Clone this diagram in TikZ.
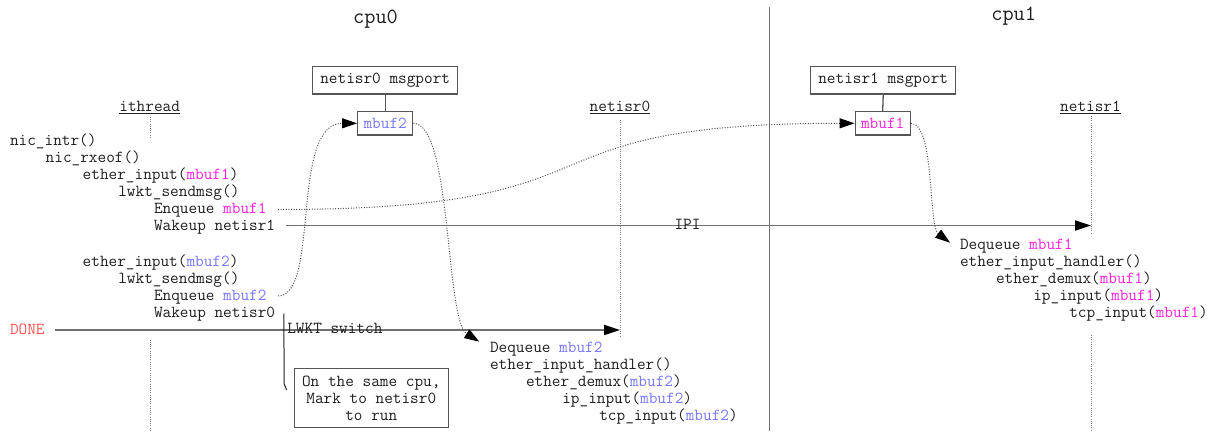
\documentclass[tikz,border=0pt]{standalone}
\usepackage{fontspec}
\usetikzlibrary{arrows.meta}
\definecolor{ink}{HTML}{1E1E1E}
\definecolor{mbA}{HTML}{FF22DD}
\definecolor{mbB}{HTML}{7777FF}
\definecolor{donered}{HTML}{FF5050}
\definecolor{rule}{HTML}{707070}
\definecolor{boxline}{HTML}{555555}
\definecolor{lifegray}{HTML}{808080}
\definecolor{dotgray}{HTML}{505050}
\newcommand{\mA}{\textcolor{mbA}{mbuf1}}
\newcommand{\mB}{\textcolor{mbB}{mbuf2}}
\newcommand{\codefont}{\ttfamily\fontsize{16.8}{17}\selectfont}
\tikzset{
  txt/.style={anchor=base west, inner sep=0pt, outer sep=0pt, text=ink,
    font=\codefont},
  ctxt/.style={txt, anchor=base},
  title/.style={anchor=base, inner sep=0pt, text=ink,
    font=\ttfamily\fontsize{21.7}{24}\selectfont},
  portbox/.style={draw=boxline, line width=1.3pt, fill=white, text=ink,
    font=\codefont, inner sep=0pt,
    minimum width=145pt, minimum height=27.3pt},
  mbufbox/.style={portbox, minimum width=55pt, minimum height=23.3pt},
  notebox/.style={draw=boxline, line width=1.3pt, text=ink, align=center,
    font=\codefont, inner sep=0pt,
    minimum width=154pt, minimum height=59.4pt},
  life/.style={draw=lifegray, line width=1pt, dash pattern=on 1pt off 1.2pt},
  msg/.style={draw=rule, line width=1.8pt,
    -{Triangle[length=16pt,width=10pt,color=black]}},
  flow/.style={draw=dotgray, line width=1pt, dash pattern=on 1pt off 1.6pt,
    -{Triangle[length=15pt,width=10pt,color=black]}},
  plain/.style={draw=boxline, line width=1.3pt},
  underl/.style={draw=ink, line width=1pt},
}
\begin{document}
\begin{tikzpicture}[x=1pt,y=-1pt]
\useasboundingbox (0,0) rectangle (1215,431);

% cpu divider
\coordinate (divtop) at (769.3,7);
\coordinate (divbot) at (769.3,431);
\draw[draw=rule, line width=1.5pt] (divtop) -- (divbot);

% titles
\node[title] (cpu0) at (375.5,23.3) {cpu0};
\node[title] (cpu1) at (1013.7,20.7) {cpu1};

% message ports and queued mbufs
\node[portbox] (port0) at (385.2,80.3) {netisr0 msgport};
\node[mbufbox] (q0) at (385.2,123.3) {\mB};
\node[portbox] (port1) at (883.2,80.3) {netisr1 msgport};
\node[mbufbox] (q1) at (882.7,123.3) {\mA};
\draw[plain] (port0.south) -- (q0.north);
\draw[plain] (port1.south) -- (q1.north);

% thread headers
\node[ctxt] (ithread) at (149.7,111) {ithread};
\node[ctxt] (netisr0) at (620,111) {netisr0};
\node[ctxt] (netisr1) at (1090.5,111) {netisr1};
\foreach \h in {ithread,netisr0,netisr1}
  \draw[underl] ([yshift=-2.5pt]\h.base west) -- ([yshift=-2.5pt]\h.base east);

% lifelines
\coordinate (it1a) at (150,117);   \coordinate (it1b) at (150,138.5);
\coordinate (it2a) at (150,339.5); \coordinate (it2b) at (150,431);
\coordinate (n0a) at (620,120);    \coordinate (n0b) at (620,337);
\coordinate (n1a) at (1091,116);   \coordinate (n1b) at (1091,233.5);
\coordinate (n1c) at (1091,335);   \coordinate (n1d) at (1091,431);
\draw[life] (it1a) -- (it1b);
\draw[life] (it2a) -- (it2b);
\draw[life] (n0a) -- (n0b);
\draw[life] (n1a) -- (n1b);
\draw[life] (n1c) -- (n1d);

% interrupt thread call stack
\node[txt] (intr)  at (10,145.5)   {nic\_intr()};
\node[txt] (rxeof) at (45.7,162.5) {nic\_rxeof()};
\node[txt] (ein1)  at (82.7,179.5) {ether\_input(\mA)};
\node[txt] (send1) at (118.3,196.5) {lwkt\_sendmsg()};
\node[txt] (enq1)  at (154,213.5)  {Enqueue \mA};
\node[txt] (wake1) at (154,230.5)  {Wakeup netisr1};
\node[txt] (ein2)  at (82.7,266.5) {ether\_input(\mB)};
\node[txt] (send2) at (118.3,283.5) {lwkt\_sendmsg()};
\node[txt] (enq2)  at (154,300.5)  {Enqueue \mB};
\node[txt] (wake0) at (154,317.5)  {Wakeup netisr0};
\node[txt, text=donered] (done) at (10,334.5) {DONE};

% netisr0 processing
\node[txt] (deq0) at (490,352.5)   {Dequeue \mB};
\node[txt] (eih0) at (490,369.5)   {ether\_input\_handler()};
\node[txt] (dmx0) at (526,386.5)   {ether\_demux(\mB)};
\node[txt] (ip0)  at (562.3,403.5) {ip\_input(\mB)};
\node[txt] (tcp0) at (599.3,420.5) {tcp\_input(\mB)};

% netisr1 processing
\node[txt] (deq1) at (960,249.5)    {Dequeue \mA};
\node[txt] (eih1) at (960,266.5)    {ether\_input\_handler()};
\node[txt] (dmx1) at (996,283.5)    {ether\_demux(\mA)};
\node[txt] (ip1)  at (1033.3,300.5) {ip\_input(\mA)};
\node[txt] (tcp1) at (1069.3,317.5) {tcp\_input(\mA)};

% wakeups
\coordinate (ipiStart) at (286,225.5);
\coordinate (ipiEnd) at (1091,225.5);
\draw[msg] (ipiStart) -- (ipiEnd);
\node[ctxt] (ipi) at (687.5,229.5) {IPI};

\coordinate (doneStart) at (55,330);
\coordinate (doneEnd) at (620,330);
\draw[msg] (doneStart) -- (doneEnd);
\node[txt] (lwkt) at (287.3,333.5) {LWKT switch};

% note attached to the local wakeup
\node[notebox] (note) at (371.3,398) {On the same cpu,\\Mark to netisr0\\to run};
\coordinate (calloutTop) at (283.8,313.5);
\coordinate (calloutMid) at (284.2,384);
\coordinate (calloutEnd) at (286.7,390);
\draw[draw=ink, line width=1pt] (calloutTop) -- (calloutMid) -- (calloutEnd);

% mbuf flow through the message ports
\coordinate (enq1End) at (278,209.5);
\coordinate (enq2End) at (278,296);
\coordinate (deq0Tip) at (479.3,341.7);
\coordinate (deq1Tip) at (950,242.7);
\draw[flow] (enq1End) .. controls (643,209.5) and (500,123.3) .. (q1.west);
\draw[flow] (enq2End) .. controls (320,296) and (290,123.3) .. (q0.west);
\draw[flow] (q0.east) .. controls (452,123.3) and (445,320) .. (deq0Tip);
\draw[flow] (q1.east) .. controls (935,123.3) and (928,226) .. (deq1Tip);
\end{tikzpicture}
\end{document}
